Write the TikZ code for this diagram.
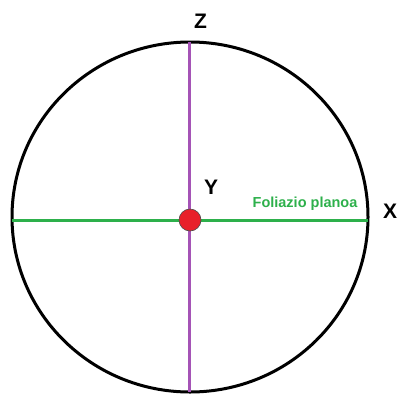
\documentclass[tikz,border=0pt]{standalone}
\usepackage{tikz}
\usetikzlibrary{positioning}
\usepackage{fontspec}
\setmainfont{Liberation Sans}
\definecolor{axispurple}{HTML}{A553B6}
\definecolor{planegreen}{HTML}{2DB04B}
\definecolor{dotred}{HTML}{E8202A}

\begin{document}
\begin{tikzpicture}[x=1pt, y=-1pt,
    axislabel/.style={font=\fontsize{21}{21}\selectfont\bfseries, text=black, inner sep=0pt}]
      \useasboundingbox (0,0) rectangle (398,394);

      % Circle
      \draw[black, line width=3pt] (190,217) ellipse [x radius=178, y radius=175];

      % Axes
      \coordinate (top) at (189,42);
      \coordinate (bottom) at (189,392);
      \coordinate (left) at (12,220);
      \coordinate (right) at (368,220);
      \draw[axispurple, line width=3pt] (top) -- (bottom);
      \draw[planegreen, line width=3pt] (left) -- (right);

      % Centre point
      \node[circle, fill=dotred, draw=black!70, line width=0.6pt, minimum size=22pt, inner sep=0pt] (centre) at (190,220) {};

      % Labels
      \node[axislabel] (zlabel) at (200.5,21) {Z};
      \node[axislabel] (ylabel) at (211,187) {Y};
      \node[axislabel] (xlabel) at (390,211) {X};
      \node[font=\fontsize{14.5}{15}\selectfont\bfseries, text=planegreen, inner sep=0pt, anchor=base] (plane) at (305,207) {Foliazio planoa};
    \end{tikzpicture}
\end{document}
